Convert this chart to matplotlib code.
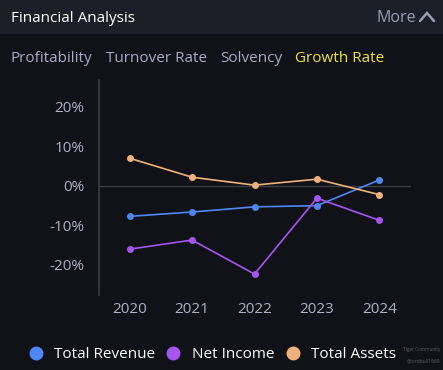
import numpy as np
import matplotlib.pyplot as plt
from matplotlib.lines import Line2D
from matplotlib.patches import Rectangle

years = ['2020', '2021', '2022', '2023', '2024']
total_revenue = [-7.7, -6.6, -5.3, -5.0, 1.5]
net_income = [-16.0, -13.7, -22.3, -3.1, -8.7]
total_assets = [7.0, 2.2, 0.2, 1.7, -2.2]
y_ticks = [-20, -10, 0, 10, 20]
tabs = ['Profitability', 'Turnover Rate', 'Solvency', 'Growth Rate']
tab_x = [11, 106, 220, 295]

bg = '#101217'
header_bg = '#1c1f27'
tick_col = '#aeb1c5'
c_rev = '#4f87f6'
c_ni = '#a456ef'
c_ta = '#f0b27c'

plt.rcParams['font.family'] = ['Open Sans', 'DejaVu Sans']

W, H = 443, 370
fig = plt.figure(figsize=(W / 100, H / 100), dpi=100, facecolor=bg)

# header bar
fig.patches.append(Rectangle((0, 1 - 34 / H), 1, 34 / H, transform=fig.transFigure,
                             facecolor=header_bg, edgecolor='none', zorder=0))
fig.text(11 / W, 1 - 18.5 / H, 'Financial Analysis', color='white', fontsize=11,
         ha='left', va='center')
fig.text(376 / W, 1 - 18.5 / H, 'More', color='#9a9db0', fontsize=11.5,
         ha='left', va='center')
# chevron
fig.add_artist(Line2D([420 / W, 427 / W, 434 / W],
                      [1 - 21 / H, 1 - 13 / H, 1 - 21 / H],
                      transform=fig.transFigure, color='#9a9db0', lw=1.8,
                      solid_capstyle='round', solid_joinstyle='miter'))

for t, x in zip(tabs, tab_x):
    col = '#f3e23a' if t == 'Growth Rate' else '#a9acc6'
    fig.text(x / W, 1 - 58.5 / H, t, color=col, fontsize=11, ha='left', va='center')

ax = fig.add_axes([98.5 / W, 75 / H, 312 / W, 215 / H])
ax.set_facecolor(bg)
x = np.arange(len(years))

ax.axhline(0, color='#3a3d46', lw=1, zorder=1)
ax.plot(x, total_revenue, color=c_rev, lw=1.2, marker='o', ms=4, zorder=3)
ax.plot(x, net_income, color=c_ni, lw=1.2, marker='o', ms=4, zorder=3)
ax.plot(x, total_assets, color=c_ta, lw=1.2, marker='o', ms=4, zorder=3)

ax.set_xlim(-0.5, 4.5)
ax.set_ylim(-27.6, 26.8)
ax.set_xticks(x)
ax.set_xticklabels(years)
ax.set_yticks(y_ticks)
ax.set_yticklabels([f'{v}%' for v in y_ticks])
ax.tick_params(colors=tick_col, labelsize=11, length=0)
ax.tick_params(axis='x', pad=5)
ax.tick_params(axis='y', pad=10)
for s in ['top', 'right', 'bottom']:
    ax.spines[s].set_visible(False)
ax.spines['left'].set_color('#3b3e48')
ax.spines['left'].set_linewidth(1.2)

handles = [Line2D([], [], ls='none', marker='o', ms=9, color=c)
           for c in (c_rev, c_ni, c_ta)]
fig.legend(handles, ['Total Revenue', 'Net Income', 'Total Assets'],
           loc='center', bbox_to_anchor=(212 / W, 1 - 355 / H), ncol=3,
           frameon=False, fontsize=11, labelcolor='white',
           handlelength=1, handletextpad=0.7, columnspacing=0.7)

fig.text(440 / W, 1 - 349 / H, 'Tiger Community', color='#5a5d66', fontsize=3.3,
         ha='right', va='center')
fig.text(440 / W, 1 - 361 / H, '@lordbull1669', color='#5a5d66', fontsize=3.6,
         ha='right', va='center')

fig.savefig('out.png', dpi=100, facecolor=bg)
